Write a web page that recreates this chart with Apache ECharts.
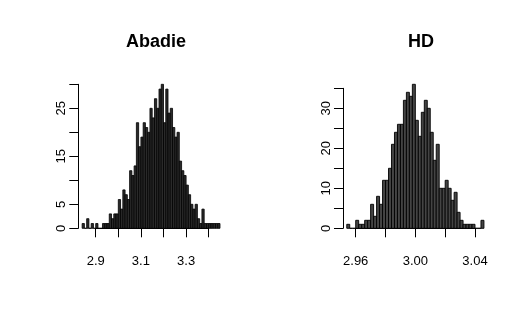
<!DOCTYPE html>
<html>
<head>
<meta charset="utf-8">
<script src="https://cdn.jsdelivr.net/npm/echarts@6/dist/echarts.min.js"></script>
<style>
  html, body { margin: 0; padding: 0; background: #fff; }
  #chart { width: 530px; height: 332px; }
</style>
</head>
<body>
<div id="chart"></div>
<script>
  // Abadie histogram: bins of 0.01 starting at 2.84
  var abadieStart = 2.84
  var abadieWidth = 0.01
  var abadieCounts = [
    1, 0, 2, 0, 1, 0, 1, 0, 0, 1, 1, 1,
    3, 2, 3, 3, 6, 4, 8, 7, 6, 12, 11, 13,
    22, 17, 19, 22, 21, 20, 25, 23, 27, 25, 29, 30,
    22, 29, 24, 25, 21, 19, 20, 14, 12, 11, 9, 7,
    5, 4, 5, 2, 1, 4, 1, 1, 1, 1, 1, 1, 1
  ]
  var abadieXLabels = ['2.9', '3.1', '3.3']
  var abadieYLabels = [0, 5, 15, 25]

  // HD histogram: bins of 0.002 starting at 2.954
  var hdStart = 2.954
  var hdWidth = 0.002
  var hdCounts = [
    1, 0, 0, 2, 1, 1, 2, 2, 6, 3, 8, 6,
    12, 12, 15, 21, 24, 26, 26, 32, 34, 33, 36, 27,
    23, 29, 32, 30, 24, 17, 21, 10, 10, 12, 10, 7,
    9, 4, 2, 1, 1, 1, 1, 0, 0, 2
  ]
  var hdXLabels = ['2.96', '3.00', '3.04']
  var hdYLabels = [0, 10, 20, 30]

  var FONT = 'Liberation Sans, Arial, Helvetica, sans-serif'

  function xAxisOpt(idx, min, max, interval, digits, labels) {
    return {
      type: 'value', gridIndex: idx, min: min, max: max, interval: interval,
      offset: 5,
      axisLine: {show: true, lineStyle: {color: '#000', width: 1}},
      axisTick: {show: true, length: 9, lineStyle: {color: '#000'}},
      splitLine: {show: false},
      axisLabel: {
        color: '#000', fontSize: 13, fontFamily: FONT, margin: 22,
        formatter: function (v) {
          var s = v.toFixed(digits)
          return labels.indexOf(s) >= 0 ? s : ''
        }
      }
    }
  }

  function yAxisOpt(idx, max, offset, labels) {
    return {
      type: 'value', gridIndex: idx, min: 0, max: max, interval: 5,
      offset: offset,
      axisLine: {show: true, lineStyle: {color: '#000', width: 1}},
      axisTick: {show: true, length: 9, lineStyle: {color: '#000'}},
      splitLine: {show: false},
      axisLabel: {
        color: '#000', fontSize: 13, fontFamily: FONT, margin: 10, rotate: 90,
        formatter: function (v) {
          return labels.indexOf(v) >= 0 ? String(v) : ''
        }
      }
    }
  }

  function histSeries(idx, start, width, counts, fill, lw) {
    return {
      type: 'custom', xAxisIndex: idx, yAxisIndex: idx, clip: false,
      silent: true,
      data: counts.map(function (c, i) {
        return [start + i * width, start + (i + 1) * width, c]
      }),
      renderItem: function (params, api) {
        var p0 = api.coord([api.value(0), api.value(2)])
        var p1 = api.coord([api.value(1), 0])
        return {
          type: 'rect',
          shape: {x: p0[0], y: p0[1], width: p1[0] - p0[0], height: p1[1] - p0[1]},
          style: {fill: fill, stroke: '#000', lineWidth: lw}
        }
      }
    }
  }

  var chart = echarts.init(document.getElementById('chart'))
  chart.setOption({
    animation: false,
    backgroundColor: '#fff',
    title: [
      {text: 'Abadie', left: 151, top: 28, textAlign: 'center',
        textStyle: {fontSize: 18, fontWeight: 'bold', color: '#000', fontFamily: FONT}},
      {text: 'HD', left: 416, top: 28, textAlign: 'center',
        textStyle: {fontSize: 18, fontWeight: 'bold', color: '#000', fontFamily: FONT}}
    ],
    grid: [
      {left: 95.7, right: 530 - 208.7, top: 84.3, bottom: 332 - 228.3},
      {left: 355.7, right: 530 - 475, top: 88.3, bottom: 332 - 228.3}
    ],
    xAxis: [
      xAxisOpt(0, 2.9, 3.4, 0.1, 1, abadieXLabels),
      xAxisOpt(1, 2.96, 3.04, 0.02, 2, hdXLabels)
    ],
    yAxis: [
      yAxisOpt(0, 30, 17.4, abadieYLabels),
      yAxisOpt(1, 35, 12.7, hdYLabels)
    ],
    series: [
      histSeries(0, abadieStart, abadieWidth, abadieCounts, '#2a2a2a', 0.8),
      histSeries(1, hdStart, hdWidth, hdCounts, '#444', 0.9)
    ]
  })
</script>
</body>
</html>
